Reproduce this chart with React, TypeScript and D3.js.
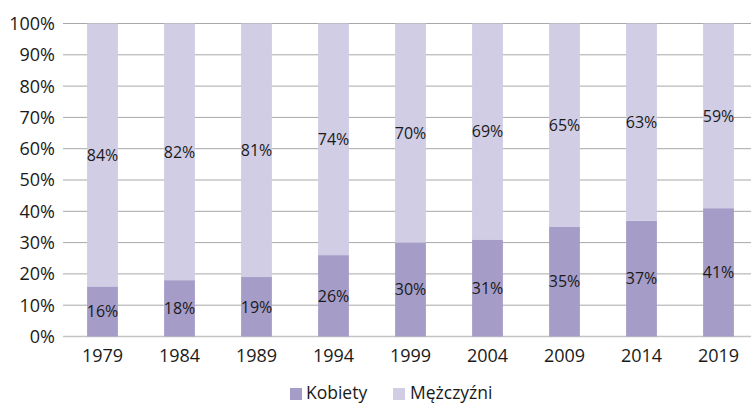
import React from "react";
import * as d3 from "d3";

const years = ["1979", "1984", "1989", "1994", "1999", "2004", "2009", "2014", "2019"];
const kobiety = [16, 18, 19, 26, 30, 31, 35, 37, 41];
const mezczyzni = [84, 82, 81, 74, 70, 69, 65, 63, 59];
const yTicks = [0, 10, 20, 30, 40, 50, 60, 70, 80, 90, 100];
const seriesNames = ["Kobiety", "Mężczyźni"];
const colors = ["#a59cc8", "#d0cde4"];

const W = 751;
const H = 403;
const FONT = "'Open Sans', sans-serif";

export default function App() {
  const x = d3.scaleBand<string>().domain(years).range([64, 757]).paddingInner(0.6).paddingOuter(0.3);
  const y = d3.scaleLinear().domain([0, 100]).range([336.5, 23.5]);
  const plotLeft = 63;
  const plotRight = W;

  return (
    <svg width={W} height={H} style={{ position: "absolute", left: 0, top: 0, background: "#fff" }}>
      {yTicks.map((t) => (
        <g key={t}>
          <line
            x1={plotLeft}
            x2={plotRight}
            y1={y(t)}
            y2={y(t)}
            stroke={t === 0 ? "#c4c4c4" : "#a8a8a8"}
            strokeWidth={t === 0 ? 1.5 : 1}
          />
          <text x={55} y={y(t)} dy="0.36em" textAnchor="end" fontFamily={FONT} fontSize={18} fill="#1a1a1a">
            {t}%
          </text>
        </g>
      ))}
      {years.map((yr, i) => {
        const bx = x(yr)!;
        const bw = x.bandwidth();
        const k = kobiety[i];
        const m = mezczyzni[i];
        return (
          <g key={yr}>
            <rect x={bx} width={bw} y={y(k)} height={y(0) - y(k)} fill={colors[0]} />
            <rect x={bx} width={bw} y={y(k + m)} height={y(k) - y(k + m)} fill={colors[1]} />
            <text x={bx + bw / 2} y={(y(0) + y(k)) / 2} dy="0.36em" textAnchor="middle" fontFamily={FONT} fontSize={16} fill="#1a1a1a">
              {k}%
            </text>
            <text x={bx + bw / 2} y={(y(k) + y(k + m)) / 2} dy="0.36em" textAnchor="middle" fontFamily={FONT} fontSize={16} fill="#1a1a1a">
              {m}%
            </text>
            <text x={bx + bw / 2} y={362} textAnchor="middle" fontFamily={FONT} fontSize={18} fill="#1a1a1a">
              {yr}
            </text>
          </g>
        );
      })}
      <g>
        <rect x={290} y={388} width={12} height={12} fill={colors[0]} />
        <text x={306} y={399} fontFamily={FONT} fontSize={17.5} fill="#1a1a1a">{seriesNames[0]}</text>
        <rect x={393} y={388} width={12} height={12} fill={colors[1]} />
        <text x={410} y={399} fontFamily={FONT} fontSize={17.5} fill="#1a1a1a">{seriesNames[1]}</text>
      </g>
    </svg>
  );
}
